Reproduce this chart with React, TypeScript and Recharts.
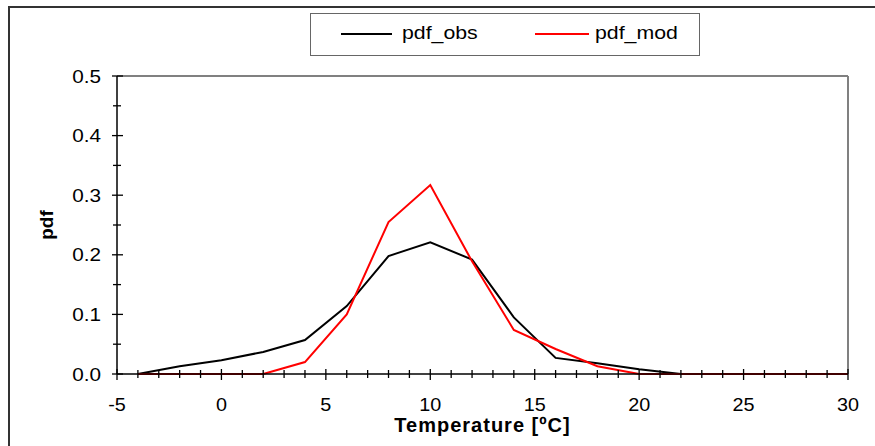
import React from 'react';
import {
  LineChart, Line, XAxis, YAxis, Legend, ReferenceLine,
} from 'recharts';

// temperature bins (ºC) and the two pdf curves
const temps = [-4, -2, 0, 2, 4, 6, 8, 10, 12, 14, 16, 18, 20, 22, 24, 26, 28, 30];
const pdfObs = [0, 0.013, 0.023, 0.037, 0.057, 0.114, 0.198, 0.221, 0.192, 0.095, 0.027, 0.018, 0.008, 0, 0, 0, 0, 0];
const pdfMod = [0, 0, 0, 0, 0.02, 0.1, 0.255, 0.317, 0.189, 0.074, 0.042, 0.013, 0, 0, 0, 0, 0, 0];
const seriesNames = ['pdf_obs', 'pdf_mod'];

const xMajor = [-5, 0, 5, 10, 15, 20, 25, 30];
const yMajor = [0, 0.1, 0.2, 0.3, 0.4, 0.5];
// minor ticks every 1 ºC and every 0.05
const xTicks = Array.from({ length: 36 }, (_, i) => i - 5);
const yTicks = Array.from({ length: 11 }, (_, i) => i * 0.05);

const data = temps.map((t, i) => ({ t, obs: pdfObs[i], mod: pdfMod[i] }));

const FONT = '"Liberation Sans", Arial, sans-serif';

const isMajorX = (v: number) => xMajor.includes(v);
const isMajorY = (v: number) => yMajor.some((m) => Math.abs(m - v) < 1e-6);

const XTick = (props: any) => {
  const { x, y, payload } = props;
  const major = isMajorX(payload.value);
  return (
    <g>
      <line x1={x} x2={x} y1={y - (major ? 5 : 4)} y2={y + (major ? 6 : 4)} stroke="#000" strokeWidth={1.3} />
      {major && (
        <text
          transform={`translate(${x},${y + 37}) scale(1.1,1)`}
          textAnchor="middle"
          fontFamily={FONT}
          fontSize={18}
          fill="#000"
        >
          {payload.value}
        </text>
      )}
    </g>
  );
};

const YTick = (props: any) => {
  const { x, y, payload } = props;
  const major = isMajorY(payload.value);
  return (
    <g>
      <line x1={x - (major ? 5 : 4)} x2={x + (major ? 6 : 4)} y1={y} y2={y} stroke="#000" strokeWidth={1.3} />
      {major && (
        <text
          transform={`translate(${x - 16},${y + 6.5}) scale(1.12,1)`}
          textAnchor="end"
          fontFamily={FONT}
          fontSize={18.5}
          fill="#000"
        >
          {payload.value.toFixed(1)}
        </text>
      )}
    </g>
  );
};

const renderLegend = (props: any) => {
  const payload = [...(props.payload || [])].sort(
    (a: any, b: any) => seriesNames.indexOf(a.value) - seriesNames.indexOf(b.value),
  );
  const slots = [
    { line: 30, lineW: 51, text: 91 },
    { line: 224, lineW: 54, text: 284 },
  ];
  return (
    <div
      style={{
        position: 'relative',
        boxSizing: 'border-box',
        width: 390,
        height: 43,
        border: '1.5px solid #666',
        background: '#fff',
        fontFamily: FONT,
        fontSize: 19,
      }}
    >
      {payload.map((p: any, i: number) => (
        <React.Fragment key={p.value}>
          <div
            style={{
              position: 'absolute',
              left: slots[i].line,
              top: 19,
              width: slots[i].lineW,
              height: 2,
              background: p.color,
            }}
          />
          <div
            style={{
              position: 'absolute',
              left: slots[i].text,
              top: 7,
              lineHeight: '24px',
              whiteSpace: 'nowrap',
              transform: 'scaleX(1.12)',
              transformOrigin: 'left center',
              color: '#000',
            }}
          >
            {p.value}
          </div>
        </React.Fragment>
      ))}
    </div>
  );
};

const App = () => (
  <div style={{ position: 'absolute', left: 0, top: 0, width: 875, height: 446, overflow: 'hidden', background: '#fff' }}>
    <div
      style={{
        position: 'absolute',
        left: 8,
        top: 6,
        width: 900,
        height: 500,
        borderTop: '2px solid #333',
        borderLeft: '2px solid #333',
      }}
    />
    <div style={{ position: 'absolute', left: 0, top: 0 }}>
      <LineChart
        width={875}
        height={446}
        data={data}
        margin={{ top: 76, right: 27, left: 0, bottom: 0 }}
      >
        <XAxis
          dataKey="t"
          type="number"
          domain={[-5, 30]}
          ticks={xTicks}
          interval={0}
          height={72}
          tickSize={0}
          tickMargin={0}
          tickLine={false}
          tick={<XTick />}
          axisLine={{ stroke: '#000', strokeWidth: 1.5 }}
          label={(p: any) => {
            const vb = p.viewBox;
            return (
              <text
                x={vb.x + vb.width / 2}
                y={vb.y + 58}
                textAnchor="middle"
                fontFamily={FONT}
                fontWeight="bold"
                fontSize={20}
                letterSpacing={1}
                fill="#000"
              >
                Temperature [ºC]
              </text>
            );
          }}
        />
        <YAxis
          type="number"
          domain={[0, 0.5]}
          ticks={yTicks}
          interval={0}
          width={117}
          tickSize={0}
          tickMargin={0}
          tickLine={false}
          tick={<YTick />}
          axisLine={{ stroke: '#000', strokeWidth: 1.5 }}
          label={(p: any) => {
            const vb = p.viewBox;
            return (
              <text
                transform={`translate(${vb.x + 53},${vb.y + vb.height / 2}) rotate(-90)`}
                textAnchor="middle"
                fontFamily={FONT}
                fontWeight="bold"
                fontSize={19}
                fill="#000"
              >
                pdf
              </text>
            );
          }}
        />
        <ReferenceLine y={0.5} stroke="#808080" strokeWidth={2} />
        <ReferenceLine x={30} stroke="#808080" strokeWidth={2} />
        <Legend
          layout="horizontal"
          verticalAlign="middle"
          align="center"
          wrapperStyle={{ position: 'absolute', left: 310, top: 13, width: 390, height: 43 }}
          content={renderLegend}
        />
        <Line
          type="linear"
          dataKey="obs"
          name={seriesNames[0]}
          stroke="#000000"
          strokeWidth={2}
          dot={false}
          isAnimationActive={false}
        />
        <Line
          type="linear"
          dataKey="mod"
          name={seriesNames[1]}
          stroke="#ff0000"
          strokeWidth={2}
          dot={false}
          isAnimationActive={false}
        />
      </LineChart>
    </div>
  </div>
);

export default App;
